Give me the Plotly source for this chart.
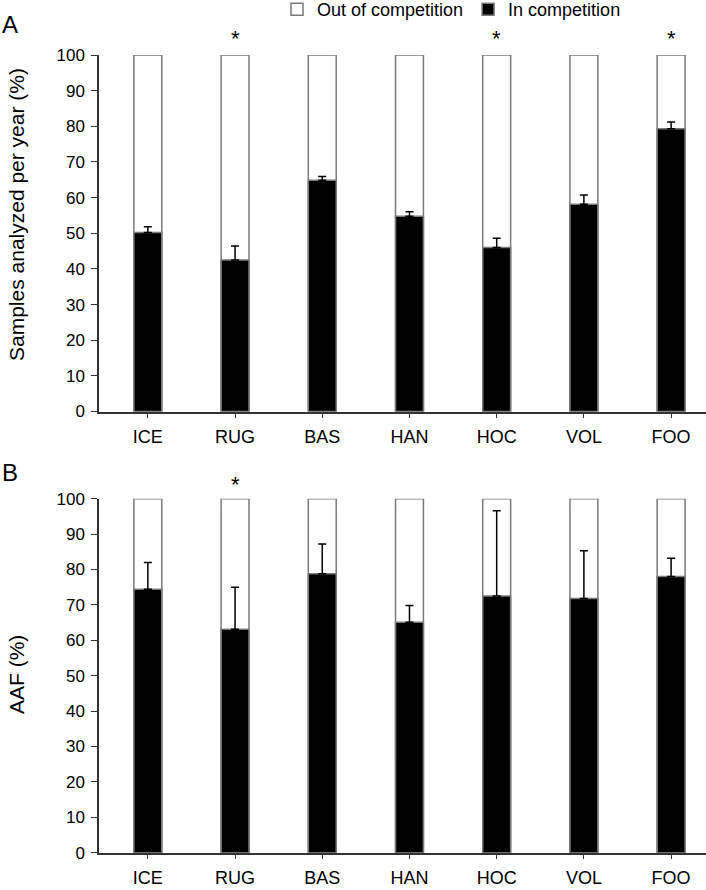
import plotly.graph_objects as go

categories = ["ICE", "RUG", "BAS", "HAN", "HOC", "VOL", "FOO"]

# Panel A: samples analyzed per year (%)
a_in = [50.2, 42.5, 64.9, 54.8, 46.0, 58.1, 79.3]
a_err = [1.6, 3.9, 1.0, 1.2, 2.6, 2.6, 1.9]
a_star = ["RUG", "HOC", "FOO"]

# Panel B: AAF (%)
b_in = [74.4, 63.1, 78.8, 65.1, 72.5, 71.8, 78.0]
b_err = [7.6, 11.9, 8.4, 4.7, 24.1, 13.5, 5.2]
b_star = ["RUG"]

total = [100] * len(categories)

FONT = "Liberation Sans, Arial, Helvetica, sans-serif"
OUTLINE = "#7a7a7a"

W = 706.0
H = 890.0

def px(xp):
    return xp / W

def py(yp):
    return 1 - yp / H

A_TOP, A_BOT = 55.0, 411.5
B_TOP, B_BOT = 498.7, 852.7

fig = go.Figure()

def add_panel(vals, errs, xa, ya, show):
    fig.add_trace(go.Bar(
        x=categories, y=total, xaxis=xa, yaxis=ya,
        name="Out of competition", showlegend=show, legendrank=1,
        marker=dict(color="white", line=dict(color=OUTLINE, width=1.5)),
        width=0.32,
    ))
    fig.add_trace(go.Bar(
        x=categories, y=vals, xaxis=xa, yaxis=ya,
        name="In competition", showlegend=show, legendrank=2,
        marker=dict(color="black", line=dict(color=OUTLINE, width=1.5)),
        width=0.32,
        error_y=dict(type="data", symmetric=False, array=errs,
                     arrayminus=[0] * len(errs), color="black",
                     thickness=1.5, width=4),
    ))

add_panel(a_in, a_err, "x", "y", True)
add_panel(b_in, b_err, "x2", "y2", False)

xcommon = dict(type="category", range=[-0.56, 6.40], showline=True,
               linecolor="#333", linewidth=1.5, ticks="outside", ticklen=5,
               tickcolor="#333", showgrid=False, zeroline=False,
               ticklabelstandoff=3,
               tickfont=dict(family=FONT, size=18, color="black"),
               domain=[px(99), 1.0])
ycommon = dict(range=[0, 100], tick0=0, dtick=10, showline=True,
               linecolor="#333", linewidth=1.5, ticks="outside", ticklen=6,
               tickcolor="#333", showgrid=False, zeroline=False,
               ticklabelstandoff=3,
               tickfont=dict(family=FONT, size=17, color="black"))

fig.update_layout(
    width=int(W), height=int(H),
    margin=dict(l=0, r=0, t=0, b=0, autoexpand=False),
    paper_bgcolor="white", plot_bgcolor="white",
    barmode="overlay",
    font=dict(family=FONT, size=17, color="black"),
    xaxis=dict(**xcommon, anchor="y"),
    yaxis=dict(**ycommon, domain=[py(A_BOT), py(A_TOP)], anchor="x"),
    xaxis2=dict(**xcommon, anchor="y2"),
    yaxis2=dict(**ycommon, domain=[py(B_BOT), py(B_TOP)], anchor="x2"),
    legend=dict(orientation="h", x=px(277), y=1.01, xanchor="left", yanchor="top",
                font=dict(family=FONT, size=18, color="black"),
                itemwidth=30, traceorder="normal", bgcolor="rgba(0,0,0,0)"),
)

ann = []
# Panel letters
ann.append(dict(text="A", x=px(0), y=py(25), xref="paper", yref="paper",
                xanchor="left", yanchor="middle", showarrow=False,
                font=dict(family=FONT, size=24, color="black")))
ann.append(dict(text="B", x=px(0), y=py(472), xref="paper", yref="paper",
                xanchor="left", yanchor="middle", showarrow=False,
                font=dict(family=FONT, size=24, color="black")))
# Y titles
ann.append(dict(text="Samples analyzed per year (%)", x=px(16),
                y=py(215), xref="paper", yref="paper", textangle=-90,
                xanchor="center", yanchor="middle", showarrow=False,
                font=dict(family=FONT, size=21, color="black")))
ann.append(dict(text="AAF (%)", x=px(16), y=py(675), xref="paper",
                yref="paper", textangle=-90, xanchor="center", yanchor="middle",
                showarrow=False, font=dict(family=FONT, size=21, color="black")))
# Significance asterisks (placed just above the 100 % line)
for c in a_star:
    ann.append(dict(text="*", x=c, y=py(A_TOP - 16), xref="x", yref="paper",
                    showarrow=False, xanchor="center", yanchor="middle",
                    font=dict(family=FONT, size=22, color="black")))
for c in b_star:
    ann.append(dict(text="*", x=c, y=py(B_TOP - 14), xref="x2", yref="paper",
                    showarrow=False, xanchor="center", yanchor="middle",
                    font=dict(family=FONT, size=22, color="black")))
fig.update_layout(annotations=ann)

# remove the default 8px page margin so the figure sits at the window's corner
fig.write_html("out.html", config={"displayModeBar": False},
               post_script="document.body.style.margin='0';")
